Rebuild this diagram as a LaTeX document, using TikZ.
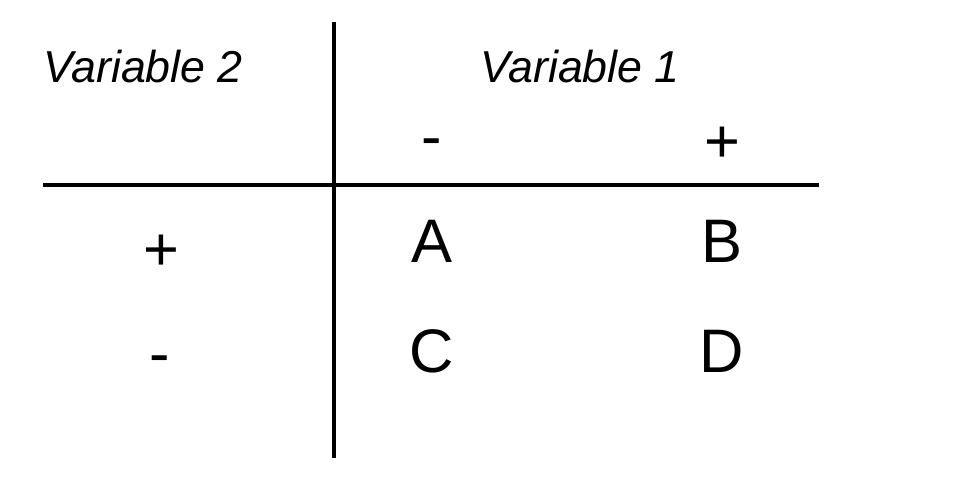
\documentclass[tikz,border=0pt]{standalone}
\usepackage{fontspec}
\setmainfont{Liberation Sans}
\usepackage{tikz}
\usetikzlibrary{calc}

\tikzset{head/.style={font=\fontsize{31.8}{36}\selectfont\itshape, inner sep=0pt, anchor=base},
	cell/.style={font=\fontsize{43.7}{50}\selectfont, inner sep=0pt, anchor=base},
	rule/.style={line width=2.3pt}}

\begin{document}
\begin{tikzpicture}[x=0.025cm,y=-0.025cm]
\useasboundingbox (0,0) rectangle (960,480);

\node[head] (V2) at (143,82) {Variable 2};
\node[head] (V1) at (580,82) {Variable 1};

\node[cell] (Cm) at (432,157) {-};
\node[cell] (Cp) at (722,162) {+};
\node[cell] (Rp) at (161,270) {+};
\node[cell] (Rm) at (160,374) {-};

\node[cell] (A) at (432,262) {A};
\node[cell] (B) at (722,262) {B};
\node[cell] (C) at (432,372) {C};
\node[cell] (D) at (722,372) {D};

\coordinate (Vtop) at (334,22);
\coordinate (Vbot) at (334,458);
\coordinate (Hl) at (43,185);
\coordinate (Hr) at (819,185);

\path[rule] (Vtop) edge (Vbot)
	(Hl) edge (Hr);
\end{tikzpicture}
\end{document}
